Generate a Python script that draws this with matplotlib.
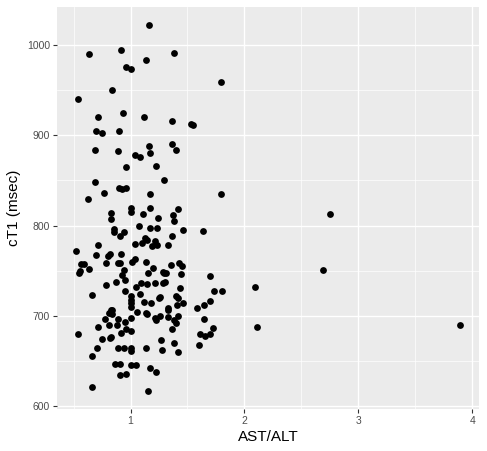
import matplotlib
matplotlib.use("Agg")
import matplotlib.pyplot as plt
from matplotlib.ticker import MultipleLocator

plt.rcParams['font.family'] = ['Liberation Sans', 'DejaVu Sans']

# ---- data (AST/ALT vs cT1) ----
ast_alt = [
    1.164, 0.637, 0.915, 1.383, 1.132, 0.959, 1.000, 1.798, 0.839, 0.538,
    0.713, 0.936, 1.117, 1.363, 1.535, 1.548, 0.696, 0.746, 0.898, 1.164,
    1.363, 1.398, 0.687, 0.886, 1.167, 1.035, 1.079, 1.228, 0.962, 1.295,
    0.690, 0.900, 0.921, 0.959, 0.623, 0.769, 1.173, 1.798, 0.833, 0.827,
    1.000, 1.000, 1.108, 1.173, 1.237, 1.371, 1.415, 1.380, 1.076,
    0.851, 0.856, 1.167, 1.234, 1.465, 1.635, 0.947, 0.904, 1.360,
    1.041, 1.099, 1.130, 1.143, 1.193, 1.213, 1.231, 1.333, 0.711, 0.523,
    0.699, 0.804, 0.819, 0.915, 1.135, 1.012, 1.035, 0.784, 0.886, 0.909,
    0.568, 0.594, 0.547, 0.556, 0.637, 1.430, 1.450, 1.354, 1.196, 1.284,
    1.298, 1.310, 1.155, 0.921, 0.947, 0.950, 0.874, 1.699, 1.440,
    0.781, 1.090, 1.143, 1.216, 1.287, 1.307, 1.436, 1.050, 0.953, 1.731,
    1.807, 0.664,
    1.000, 1.000, 1.000, 1.000, 1.085, 1.249, 1.263, 1.398, 1.415, 1.114,
    1.178, 1.465, 1.404, 1.643, 1.696, 1.585, 1.330, 1.325,
    0.810, 0.825, 0.840, 0.835, 1.061, 1.135, 1.149, 1.219, 1.228, 1.263,
    1.333, 1.415, 0.775, 0.886, 1.000, 1.380, 1.397, 1.649, 0.950,
    0.538, 0.716, 0.813, 0.880, 0.915, 0.959, 1.003, 0.825, 0.819, 0.751,
    1.360, 1.611, 1.658, 1.696, 1.725,
    1.266, 1.599, 1.383, 0.708, 0.892, 0.939, 1.000, 1.000, 1.140, 1.278,
    1.415,
    0.658, 0.865, 0.906, 1.003, 1.044, 1.167, 1.228, 0.904, 0.959, 0.664,
    1.155,
    2.096, 2.111, 2.690, 2.748, 3.891,
]
ct1 = [
    1022, 990, 995, 991, 984, 976, 973, 959, 950, 940,
    920, 925, 920, 916, 913, 912, 905, 903, 905, 888,
    890, 884, 884, 883, 880, 878, 876, 866, 865, 850,
    848, 842, 841, 842, 830, 836, 835, 835, 814, 807,
    819, 815, 813, 820, 808, 812, 818, 805, 800,
    796, 793, 797, 797, 795, 794, 793, 788, 789,
    780, 781, 786, 784, 777, 783, 779, 778, 778, 772,
    767, 766, 769, 769, 760, 760, 763, 758, 759, 759,
    757, 757, 748, 750, 752, 759, 755, 756, 753, 749,
    747, 747, 747, 745, 751, 740, 737, 744, 746,
    734, 736, 735, 736, 736, 738, 731, 732, 728, 728,
    728, 723,
    722, 718, 714, 710, 724, 720, 721, 722, 720, 715,
    714, 714, 712, 712, 716, 709, 709, 706,
    703, 706, 707, 702, 704, 703, 702, 698, 695, 700,
    699, 700, 697, 697, 698, 695, 692, 697, 693,
    680, 688, 690, 690, 681, 685, 683, 677, 675, 674,
    685, 680, 678, 680, 687,
    673, 668, 670, 664, 664, 664, 664, 661, 664, 662,
    660,
    655, 647, 647, 646, 646, 642, 638, 634, 635, 621,
    617,
    732, 688, 751, 813, 690,
]

x_ticks = [1, 2, 3, 4]
y_ticks = [600, 700, 800, 900, 1000]

fig = plt.figure(figsize=(4.87, 4.51), dpi=100)
ax = fig.add_axes([57 / 487, 1 - 409 / 451, (479 - 57) / 487, (409 - 7) / 451])

# ggplot2 grey theme look
ax.set_facecolor('#EBEBEB')
for s in ax.spines.values():
    s.set_visible(False)
ax.set_axisbelow(True)
ax.xaxis.set_minor_locator(MultipleLocator(0.5))
ax.yaxis.set_minor_locator(MultipleLocator(50))
ax.grid(which='major', color='white', linewidth=1.0)
ax.grid(which='minor', color='white', linewidth=0.5)

ax.scatter(ast_alt, ct1, s=24, color='black', linewidths=0, zorder=3)

# 5% expansion like ggplot
xr = max(ast_alt) - min(ast_alt)
yr = max(ct1) - min(ct1)
ax.set_xlim(min(ast_alt) - 0.05 * xr, max(ast_alt) + 0.05 * xr)
ax.set_ylim(min(ct1) - 0.05 * yr, max(ct1) + 0.05 * yr)

ax.set_xticks(x_ticks)
ax.set_yticks(y_ticks)
ax.tick_params(which='major', length=3, width=0.8, color='#333333',
               labelsize=7.5, labelcolor='#4D4D4D', pad=2)
ax.tick_params(which='minor', length=0)

ax.set_xlabel('AST/ALT', fontsize=11, labelpad=3)
ax.set_ylabel('cT1 (msec)', fontsize=11, labelpad=4)

fig.savefig('out.png', dpi=100)
